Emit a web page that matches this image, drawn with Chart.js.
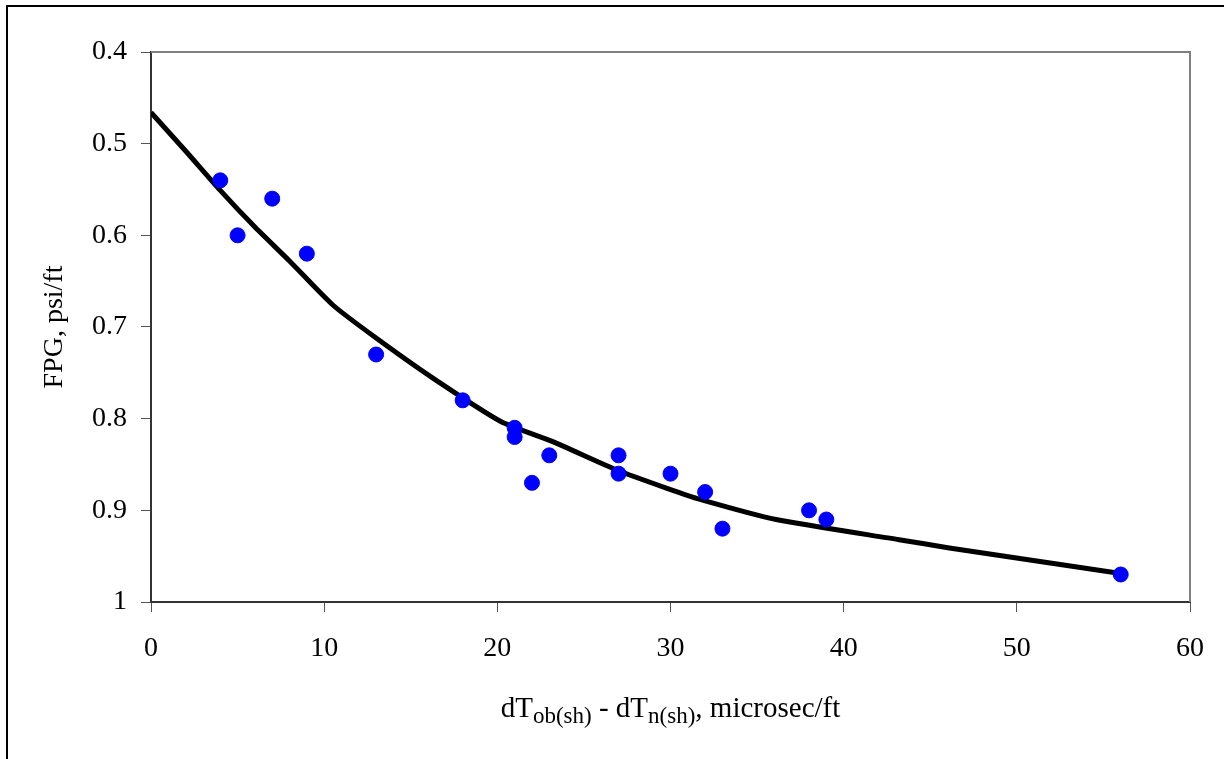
<!DOCTYPE html>
<html>
<head>
    <title>FPG vs dT</title>
    <script src="https://cdn.jsdelivr.net/npm/chart.js"></script>
    <style>
        body { margin: 0; overflow: hidden; background: #fff; }
        #wrap { position: absolute; left: 0; top: 0; width: 1224px; height: 759px; }
        #frame { position: absolute; left: 6px; top: 5px; width: 1300px; height: 900px;
                 border: 2px solid #000; pointer-events: none; }
    </style>
</head>
<body>
<div id="wrap">
    <canvas id="fpgChart" width="1224" height="759"></canvas>
</div>
<div id="frame"></div>
<script>
    // observed points
    const obsX = [4, 5, 7, 9, 13, 18, 21, 21, 22, 23, 27, 27, 30, 32, 33, 38, 39, 56];
    const obsY = [0.54, 0.60, 0.56, 0.62, 0.73, 0.78, 0.81, 0.82, 0.87, 0.84, 0.84, 0.86, 0.86, 0.88, 0.92, 0.90, 0.91, 0.97];

    // fitted curve
    const fitX = [0, 2, 4, 6, 8, 10.5, 13, 16.3, 20.2, 23.2, 26.9, 29.8, 31.7, 36.1, 43.2, 46.1, 56];
    const fitY = [0.466, 0.508, 0.551, 0.591, 0.628, 0.676, 0.712, 0.756, 0.803, 0.825, 0.856, 0.876, 0.888, 0.910, 0.932, 0.941, 0.969];

    const serif = "'Times New Roman', 'Liberation Serif', serif";

    const toPts = (xs, ys) => xs.map((x, i) => ({x: x, y: ys[i]}));

    // plot border (top/right grey) + x title with subscripts
    const extras = {
        id: 'extras',
        beforeDatasetsDraw(chart) {
            const a = chart.chartArea, ctx = chart.ctx;
            ctx.save();
            ctx.strokeStyle = '#808080';
            ctx.lineWidth = 2;
            ctx.beginPath();
            ctx.moveTo(a.left, a.top);
            ctx.lineTo(a.right, a.top);
            ctx.lineTo(a.right, a.bottom);
            ctx.stroke();
            ctx.restore();
        },
        afterDraw(chart) {
            const ctx = chart.ctx, xs = chart.scales.x;
            const parts = [
                ['dT', 0], ['ob(sh)', 1], [' - dT', 0], ['n(sh)', 1], [', microsec/ft', 0]
            ];
            const big = '29px ' + serif, small = '23px ' + serif;
            ctx.save();
            let total = 0;
            parts.forEach(p => { ctx.font = p[1] ? small : big; total += ctx.measureText(p[0]).width; });
            let x = (xs.left + xs.right) / 2 - total / 2;
            const y = chart.chartArea.bottom + 115;
            ctx.fillStyle = '#000';
            ctx.textBaseline = 'alphabetic';
            ctx.textAlign = 'left';
            parts.forEach(p => {
                ctx.font = p[1] ? small : big;
                ctx.fillText(p[0], x, p[1] ? y + 6 : y);
                x += ctx.measureText(p[0]).width;
            });
            ctx.restore();
        }
    };

    const ctx = document.getElementById('fpgChart').getContext('2d');
    const myChart = new Chart(ctx, {
        type: 'scatter',
        data: {
            datasets: [{
                label: 'Data',
                data: toPts(obsX, obsY),
                backgroundColor: '#0000ff',
                borderColor: '#0000ff',
                pointRadius: 7.5,
                pointHoverRadius: 7.5,
                order: 0
            }, {
                label: 'Fit',
                type: 'line',
                data: toPts(fitX, fitY),
                borderColor: '#000',
                borderWidth: 5,
                pointRadius: 0,
                tension: 0.2,
                fill: false,
                order: 1
            }]
        },
        options: {
            responsive: false,
            animation: false,
            layout: { padding: { left: 0, top: 52, right: 34, bottom: 0 } },
            plugins: { legend: { display: false }, tooltip: { enabled: false } },
            scales: {
                x: {
                    type: 'linear',
                    min: 0, max: 60,
                    ticks: { stepSize: 10, color: '#000', padding: 20, font: { family: serif, size: 28 } },
                    grid: { drawOnChartArea: false, tickLength: 10, color: '#555' },
                    border: { color: '#333', width: 2 },
                    afterFit(scale) { scale.height = 157; }
                },
                y: {
                    min: 0.4, max: 1,
                    reverse: true,
                    ticks: {
                        stepSize: 0.1, color: '#000', padding: 14,
                        font: { family: serif, size: 28 },
                        callback: v => String(+v.toFixed(1))
                    },
                    grid: { drawOnChartArea: false, tickLength: 10, color: '#555' },
                    border: { color: '#333', width: 2 },
                    title: {
                        display: true, text: 'FPG, psi/ft', color: '#000',
                        font: { family: serif, size: 28 },
                        padding: { top: 38, bottom: 0 }
                    },
                    afterFit(scale) { scale.width = 151; }
                }
            }
        },
        plugins: [extras]
    });
</script>
</body>
</html>
